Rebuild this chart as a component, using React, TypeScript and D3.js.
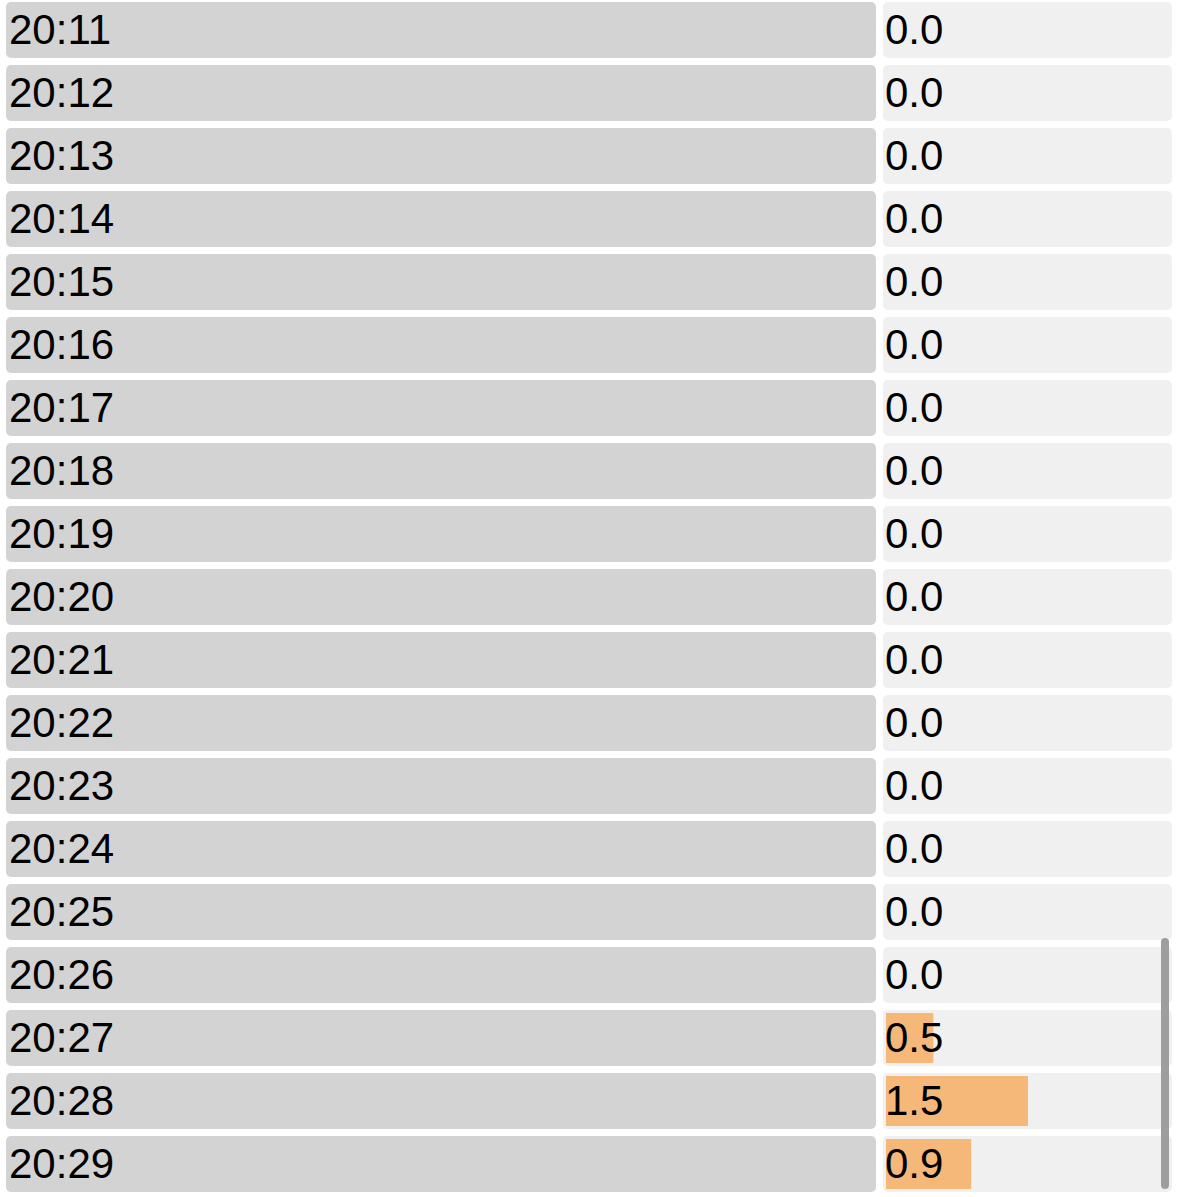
import { useEffect, useRef } from 'react';
import * as d3 from 'd3';

// minutes shown in the list (the view is scrolled to the bottom)
const times = [
  '20:11', '20:12', '20:13', '20:14', '20:15', '20:16', '20:17', '20:18', '20:19', '20:20',
  '20:21', '20:22', '20:23', '20:24', '20:25', '20:26', '20:27', '20:28', '20:29',
];
const values = [0, 0, 0, 0, 0, 0, 0, 0, 0, 0, 0, 0, 0, 0, 0, 0, 0.5, 1.5, 0.9];
const valueMax = 3;

export default function App() {
  const svgRef = useRef<SVGSVGElement | null>(null);

  useEffect(() => {
    if (!svgRef.current) return;
    const width = 1178;
    const height = 1197;
    const labelCol = { x0: 6, x1: 876 };
    const valueCol = { x0: 883, x1: 1172 };

    const rows = times.map((t, i) => ({ t, v: values[i] }));

    const svg = d3.select(svgRef.current)
      .attr('width', width)
      .attr('height', height);

    const y = d3.scaleBand()
      .domain(times)
      .range([2, 1192])
      .paddingInner(7 / 63)
      .paddingOuter(0);

    const x = d3.scaleLinear()
      .domain([0, valueMax])
      .range([valueCol.x0 + 3, valueCol.x0 + 3 + 284]);

    const g = svg.selectAll('g.rows').data([null]).join('g').attr('class', 'rows');

    const row = g.selectAll('g.row')
      .data(rows)
      .join('g')
      .attr('class', 'row')
      .attr('transform', d => `translate(0,${y(d.t)})`);

    row.append('rect')
      .attr('x', labelCol.x0)
      .attr('width', labelCol.x1 - labelCol.x0)
      .attr('height', y.bandwidth())
      .attr('rx', 5)
      .attr('fill', '#d3d3d3');

    row.append('rect')
      .attr('x', valueCol.x0)
      .attr('width', valueCol.x1 - valueCol.x0)
      .attr('height', y.bandwidth())
      .attr('rx', 5)
      .attr('fill', '#f0f0f0');

    row.append('rect')
      .attr('x', x(0))
      .attr('y', 3)
      .attr('width', d => x(d.v) - x(0))
      .attr('height', y.bandwidth() - 6)
      .attr('fill', '#f6b878');

    row.append('text')
      .attr('x', labelCol.x0 + 3)
      .attr('y', y.bandwidth() / 2)
      .attr('dy', '0.33em')
      .attr('font-family', '"Liberation Sans", Arial, sans-serif')
      .attr('font-size', 42)
      .attr('fill', '#000')
      .text(d => d.t);

    row.append('text')
      .attr('x', x(0) - 1)
      .attr('y', y.bandwidth() / 2)
      .attr('dy', '0.33em')
      .attr('font-family', '"Liberation Sans", Arial, sans-serif')
      .attr('font-size', 42)
      .attr('fill', '#000')
      .text(d => d.v.toFixed(1));

    // scrollbar thumb of the scrolled list
    svg.selectAll('rect.thumb')
      .data([null])
      .join('rect')
      .attr('class', 'thumb')
      .attr('x', 1161)
      .attr('y', 938)
      .attr('width', 8)
      .attr('height', 251)
      .attr('rx', 4)
      .attr('fill', '#9e9e9e');
  }, []);

  return (
    <div style={{ position: 'absolute', left: 0, top: 0 }}>
      <svg ref={svgRef} style={{ display: 'block' }}></svg>
    </div>
  );
}
